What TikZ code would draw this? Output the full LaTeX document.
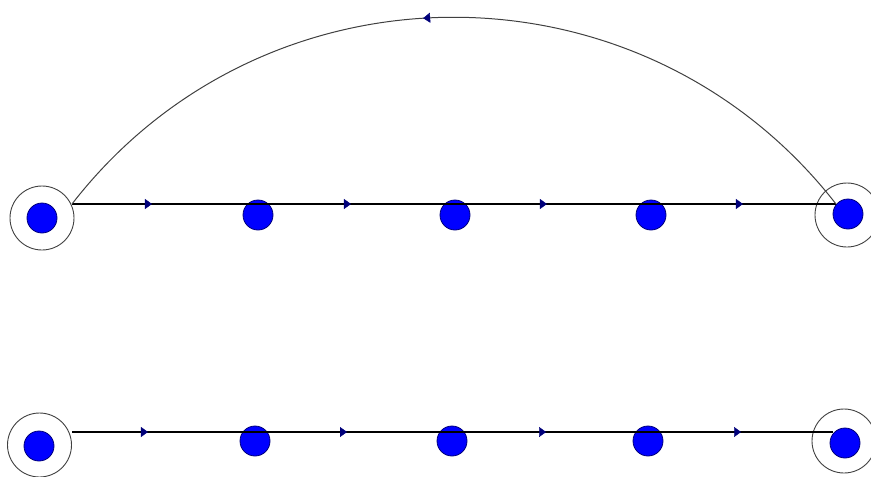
\documentclass[tikz,border=0pt]{standalone}
\usetikzlibrary{arrows.meta,decorations.markings}
\definecolor{navyc}{HTML}{00007A}
\definecolor{dotblue}{HTML}{0000FF}
\tikzset{
  dot/.style={circle,minimum size=30pt,inner sep=0pt,fill=dotblue,draw=navyc,line width=0.8pt},
  ring/.style={circle,minimum size=64pt,inner sep=0pt,draw=black!75,line width=0.9pt},
  seg/.style={draw=black,line width=1.3pt},
  arcline/.style={draw=black!75,line width=1pt},
  fwd/.style={postaction={decorate},decoration={markings,mark=at position #1 with {\arrow[navyc,line width=0.4pt]{Triangle[length=7pt,width=10pt]}}}}
}
\begin{document}
\begin{tikzpicture}[x=1pt,y=-1pt]
\useasboundingbox (0,0) rectangle (871,477);
% top row
\node[ring] (tr0) at (42,218) {};
\node[ring] (tr4) at (847,215) {};
\node[dot] (ta0) at (42,218) {};
\node[dot] (ta1) at (258,215) {};
\node[dot] (ta2) at (455,215) {};
\node[dot] (ta3) at (651,215) {};
\node[dot] (ta4) at (848,214) {};
\coordinate (t0) at (72,204);
\coordinate (t1) at (258,204);
\coordinate (t2) at (455,204);
\coordinate (t3) at (651,204);
\coordinate (t4) at (836,204);
\path[seg,fwd=0.43] (t0) -- (t1);
\path[seg,fwd=0.472] (t1) -- (t2);
\path[seg,fwd=0.469] (t2) -- (t3);
\path[seg,fwd=0.497] (t3) -- (t4);
\path[arcline,fwd=0.535] (t4) .. controls (642,-45) and (265,-45) .. (t0);
% bottom row
\node[ring] (br0) at (39.5,445) {};
\node[ring] (br4) at (844,441) {};
\node[dot] (ba0) at (39,446) {};
\node[dot] (ba1) at (255,441) {};
\node[dot] (ba2) at (452,441) {};
\node[dot] (ba3) at (648,441) {};
\node[dot] (ba4) at (845,443) {};
\coordinate (b0) at (72,432);
\coordinate (b1) at (255,432);
\coordinate (b2) at (452,432);
\coordinate (b3) at (648,432);
\coordinate (b4) at (833,432);
\path[seg,fwd=0.415] (b0) -- (b1);
\path[seg,fwd=0.467] (b1) -- (b2);
\path[seg,fwd=0.48] (b2) -- (b3);
\path[seg,fwd=0.503] (b3) -- (b4);
\end{tikzpicture}
\end{document}
